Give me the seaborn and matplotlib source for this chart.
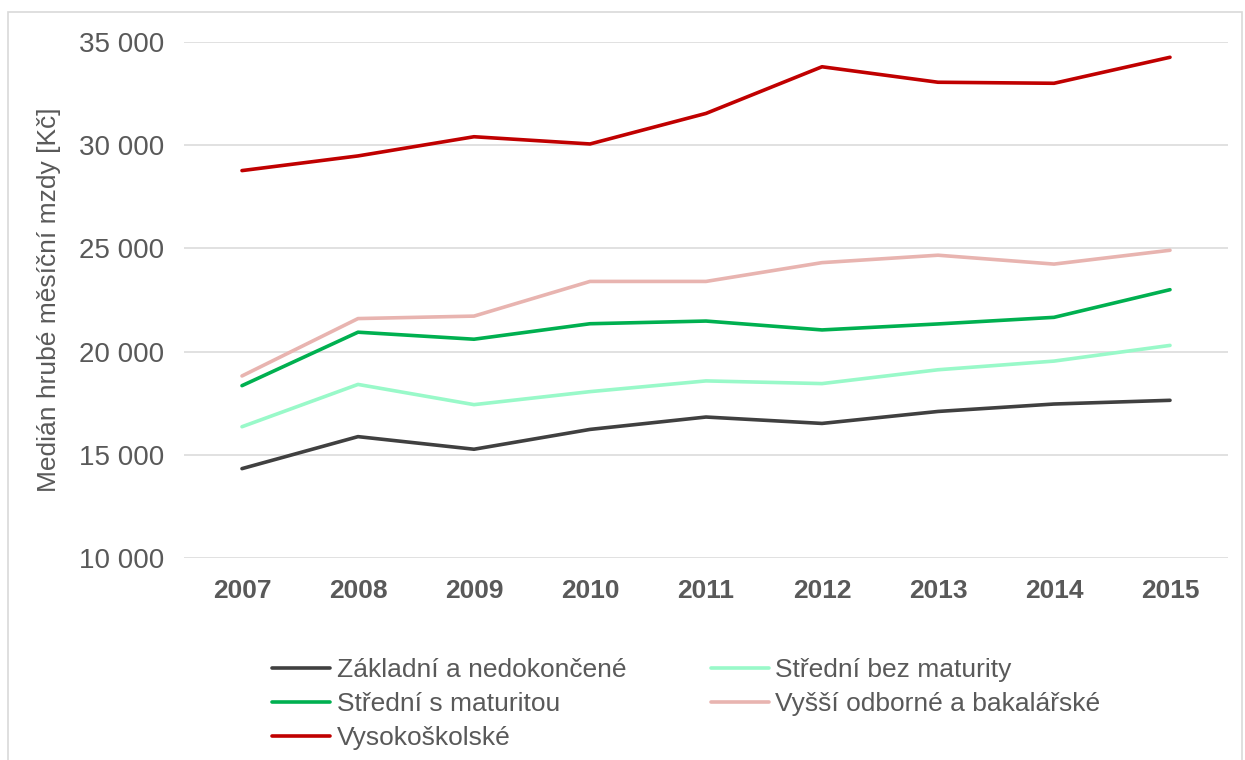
"""
Median gross monthly wage by education level, 2007-2015.
Recreated line chart, saved as out.png.
"""

import matplotlib
matplotlib.use("Agg")
import matplotlib.pyplot as plt
import matplotlib.ticker as mticker
from matplotlib.patches import Rectangle
import pandas as pd
import seaborn as sns

YEARS = [2007, 2008, 2009, 2010, 2011, 2012, 2013, 2014, 2015]

ZAKLADNI = [14330, 15880, 15270, 16230, 16830, 16520, 17100, 17460, 17640]
STREDNI_BEZ = [16360, 18410, 17430, 18060, 18580, 18450, 19120, 19540, 20300]
STREDNI_S = [18350, 20940, 20600, 21350, 21480, 21050, 21340, 21660, 23000]
VYSSI = [18820, 21600, 21720, 23400, 23400, 24310, 24670, 24240, 24910]
VYSOKO = [28770, 29480, 30410, 30060, 31540, 33800, 33050, 33000, 34260]

SERIES = {
    "Základní a nedokončené": ZAKLADNI,
    "Střední bez maturity": STREDNI_BEZ,
    "Střední s maturitou": STREDNI_S,
    "Vyšší odborné a bakalářské": VYSSI,
    "Vysokoškolské": VYSOKO,
}
COLORS = ["#404040", "#99F9C9", "#00B050", "#E8B4B0", "#C00000"]

TEXT_COLOR = "#595959"

sns.set_style("white")
plt.rcParams["font.family"] = ["Liberation Sans", "DejaVu Sans"]

rows = []
for name, vals in SERIES.items():
    for yr, v in zip(YEARS, vals):
        rows.append({"rok": yr, "mzda": v, "vzdelani": name})
df = pd.DataFrame(rows)

fig = plt.figure(figsize=(12.45, 7.6), dpi=100)
ax = fig.add_axes([184 / 1245, 202 / 760, 1044 / 1245, 516 / 760])

sns.lineplot(data=df, x="rok", y="mzda", hue="vzdelani",
             palette=COLORS, linewidth=2.6, ax=ax, legend=True)

ax.set_xlim(2006.5, 2015.5)
ax.set_ylim(10000, 35000)
ax.set_xticks(YEARS)
ax.set_yticks(range(10000, 35001, 5000))
ax.yaxis.set_major_formatter(
    mticker.FuncFormatter(lambda v, _: f"{int(v):,}".replace(",", " ")))
ax.grid(axis="y", color="#D9D9D9", linewidth=1.1)
ax.set_axisbelow(True)
for s in ax.spines.values():
    s.set_visible(False)
ax.tick_params(length=0)
ax.tick_params(axis="y", labelsize=20, labelcolor=TEXT_COLOR, pad=14)
ax.tick_params(axis="x", labelsize=19, labelcolor=TEXT_COLOR, pad=15)
for lbl in ax.get_xticklabels():
    lbl.set_fontweight("bold")

ax.set_xlabel("")
ax.set_ylabel("Medián hrubé měsíční mzdy [Kč]", fontsize=19,
              color=TEXT_COLOR, labelpad=13)

# legend: two columns filled row by row
handles, labels = ax.get_legend_handles_labels()
order = [0, 2, 4, 1, 3]
ax.legend([handles[i] for i in order], [labels[i] for i in order],
          ncol=2, frameon=False, fontsize=19, labelcolor=TEXT_COLOR,
          loc="upper left", bbox_to_anchor=(272 / 1245, 102 / 760),
          bbox_transform=fig.transFigure, handlelength=2.2,
          handletextpad=0.25, columnspacing=3.2, labelspacing=0.38,
          borderaxespad=0, borderpad=0)

fig.patches.append(Rectangle((8 / 1245, -0.01), 1234 / 1245, 1 - 12 / 760 + 0.01,
                             transform=fig.transFigure, fill=False,
                             edgecolor="#D9D9D9", linewidth=1.2))

fig.savefig("out.png", dpi=100)
